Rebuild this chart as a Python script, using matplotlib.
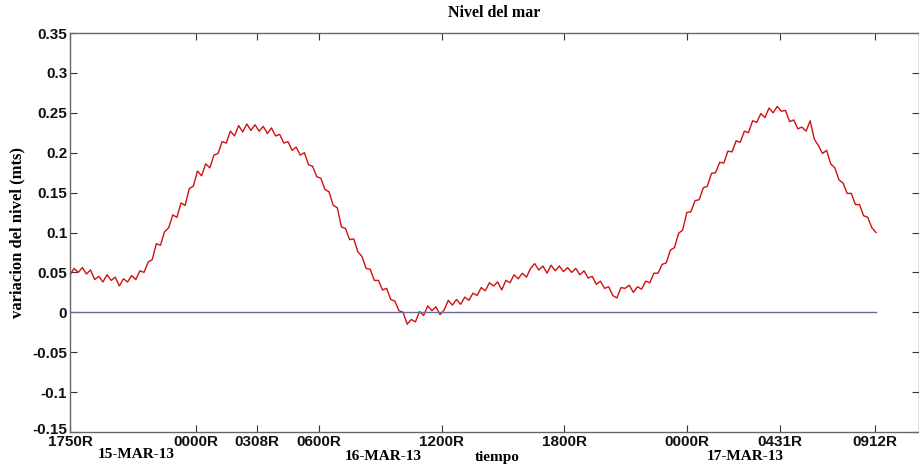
import numpy as np
import matplotlib
matplotlib.use('Agg')
import matplotlib.pyplot as plt
import matplotlib.transforms as mtransforms

# nivel del mar, muestras cada ~0.2 h desde 15-MAR-13 1750R
nivel = [
    0.047, 0.055, 0.050, 0.056, 0.048, 0.053, 0.041, 0.045, 0.038, 0.047,
    0.040, 0.044, 0.033, 0.042, 0.038, 0.046, 0.041, 0.052, 0.050, 0.063,
    0.066, 0.086, 0.084, 0.101, 0.106, 0.122, 0.119, 0.137, 0.134, 0.155,
    0.158, 0.177, 0.171, 0.186, 0.181, 0.197, 0.199, 0.214, 0.212, 0.227,
    0.221, 0.234, 0.226, 0.236, 0.228, 0.235, 0.227, 0.233, 0.224, 0.231,
    0.221, 0.223, 0.212, 0.214, 0.203, 0.207, 0.197, 0.200, 0.185, 0.183,
    0.170, 0.168, 0.154, 0.151, 0.134, 0.131, 0.107, 0.105, 0.091, 0.092,
    0.076, 0.070, 0.055, 0.054, 0.040, 0.040, 0.028, 0.030, 0.016, 0.014,
    0.002, 0.000, -0.015, -0.009, -0.012, 0.001, -0.004, 0.008, 0.002, 0.007,
    -0.003, 0.003, 0.015, 0.009, 0.016, 0.010, 0.019, 0.015, 0.024, 0.021,
    0.031, 0.027, 0.037, 0.033, 0.038, 0.028, 0.040, 0.037, 0.047, 0.042,
    0.049, 0.044, 0.055, 0.061, 0.053, 0.058, 0.049, 0.059, 0.052, 0.058,
    0.051, 0.056, 0.050, 0.055, 0.047, 0.052, 0.043, 0.045, 0.035, 0.039,
    0.030, 0.032, 0.021, 0.018, 0.031, 0.030, 0.034, 0.025, 0.032, 0.029,
    0.039, 0.037, 0.049, 0.049, 0.060, 0.062, 0.078, 0.081, 0.099, 0.103,
    0.125, 0.126, 0.140, 0.141, 0.156, 0.158, 0.174, 0.175, 0.188, 0.187,
    0.202, 0.201, 0.215, 0.213, 0.227, 0.225, 0.240, 0.238, 0.249, 0.244,
    0.256, 0.250, 0.258, 0.252, 0.253, 0.239, 0.241, 0.230, 0.232, 0.227,
    0.240, 0.217, 0.209, 0.199, 0.203, 0.186, 0.181, 0.166, 0.162, 0.149,
    0.149, 0.135, 0.135, 0.121, 0.119, 0.106, 0.100,
]
horas = np.arange(len(nivel)) * 0.201

tick_horas = [0, 6.167, 9.133, 12.167, 18.167, 24.167, 30.167, 34.683, 39.367]
tick_labels = ['1750R', '0000R', '0308R', '0600R', '1200R', '1800R', '0000R', '0431R', '0912R']
fechas = ['15-MAR-13', '16-MAR-13', '17-MAR-13']
fecha_x = [136, 383, 745]
fecha_y = [454, 457, 456]

W, H = 920, 466
fig = plt.figure(figsize=(W / 100, H / 100), dpi=100)
ax = fig.add_axes([70 / W, 1 - 432 / H, (919 - 70) / W, (432 - 33) / H])

ax.plot(horas, nivel, color='#cf1010', lw=1.0)
ax.plot([0, horas[-1]], [0, 0], color='#6a6a98', lw=1.0)

ax.set_xlim(0, 41.5)
ax.set_ylim(-0.15, 0.35)
ax.set_yticks(np.arange(-0.15, 0.351, 0.05))
ax.set_yticklabels(['-0.15', '-0.1', '-0.05', '0', '0.05', '0.1', '0.15', '0.2', '0.25', '0.3', '0.35'])
ax.set_xticks(tick_horas)
ax.set_xticklabels(tick_labels)
ax.tick_params(direction='in', top=True, right=True, length=5, width=0.8, colors='#333333',
               labelcolor='#111111')
ax.tick_params(axis='x', pad=2)
ax.tick_params(axis='y', pad=2)
for lab in ax.get_xticklabels() + ax.get_yticklabels():
    lab.set_fontfamily('Liberation Sans')
    lab.set_fontweight('bold')
    lab.set_fontsize(11)
# -0.15 un poco mas arriba, como en el original
low = ax.get_yticklabels()[0]
low.set_transform(low.get_transform() + mtransforms.ScaledTranslation(0, 4 / 100, fig.dpi_scale_trans))
for s in ax.spines.values():
    s.set_color('#666666')
    s.set_linewidth(1.0)

serif = 'Liberation Serif'
fig.text(494 / W, 1 - 13 / H, 'Nivel del mar', ha='center', va='center',
         family=serif, weight='bold', fontsize=11.5)
fig.text(497 / W, 1 - 458 / H, 'tiempo', ha='center', va='center',
         family=serif, weight='bold', fontsize=11)
fig.text(17 / W, 1 - 232 / H, 'variacion del nivel (mts)', ha='center', va='center',
         rotation=90, family=serif, weight='bold', fontsize=12)
for f, x, y in zip(fechas, fecha_x, fecha_y):
    fig.text(x / W, 1 - y / H, f, ha='center', va='center', family=serif,
             weight='bold', fontsize=11)

fig.savefig('out.png', dpi=100)
